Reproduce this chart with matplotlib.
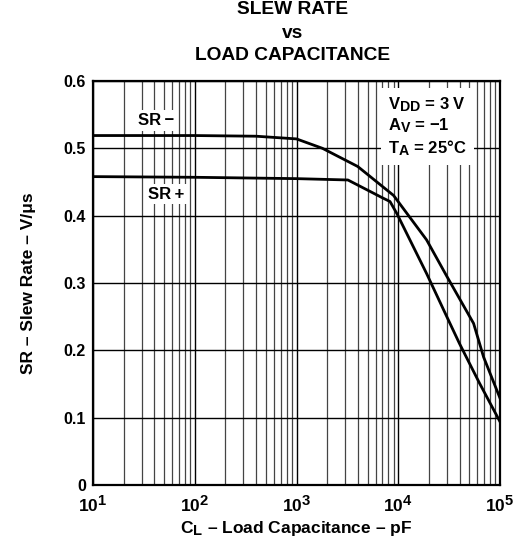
import matplotlib
matplotlib.use("Agg")
import matplotlib.pyplot as plt
import matplotlib._mathtext as _mt
from matplotlib.ticker import FixedLocator, LogLocator, NullFormatter

_mt.SHRINK_FACTOR = 0.85

plt.rcParams['font.family'] = ['Liberation Sans', 'DejaVu Sans']
plt.rcParams['font.weight'] = 'bold'
plt.rcParams['mathtext.fontset'] = 'custom'
plt.rcParams['mathtext.rm'] = 'Liberation Sans:bold'
plt.rcParams['mathtext.bf'] = 'Liberation Sans:bold'
plt.rcParams['mathtext.it'] = 'Liberation Sans:bold'

# Data
cap_minus = [10, 100, 400, 1000, 1800, 4000, 9000, 19000, 30000, 55000, 69000, 100000]
sr_minus = [0.519, 0.519, 0.518, 0.514, 0.500, 0.473, 0.430, 0.364, 0.310, 0.240, 0.190, 0.129]

cap_plus = [10, 100, 1000, 3200, 7100, 8300, 9700, 19000, 30000, 40000, 63000, 100000]
sr_plus = [0.458, 0.457, 0.455, 0.453, 0.426, 0.421, 0.403, 0.314, 0.250, 0.210, 0.151, 0.094]

x_major = [10, 100, 1000, 10000, 100000]
x_labels = [r'$\mathbf{10^{1}}$', r'$\mathbf{10^{2}}$', r'$\mathbf{10^{3}}$',
            r'$\mathbf{10^{4}}$', r'$\mathbf{10^{5}}$']
y_ticks = [0, 0.1, 0.2, 0.3, 0.4, 0.5, 0.6]
y_labels = ['0', '0.1', '0.2', '0.3', '0.4', '0.5', '0.6']

fig = plt.figure(figsize=(5.29, 5.48), dpi=100)
ax = fig.add_axes([93/529, 1-485/548, (500-93)/529, (485-81)/548])

ax.set_xscale('log')
ax.set_xlim(10, 100000)
ax.set_ylim(0, 0.6)

ax.xaxis.set_major_locator(FixedLocator(x_major))
ax.set_xticklabels(x_labels, fontsize=12.5)
ax.xaxis.set_minor_locator(LogLocator(base=10, subs=range(2, 10), numticks=20))
ax.xaxis.set_minor_formatter(NullFormatter())
ax.set_yticks(y_ticks)
ax.set_yticklabels(y_labels, fontsize=11.5)
ax.tick_params(which='both', length=0)
ax.tick_params(axis='x', pad=7)
ax.tick_params(axis='y', pad=5)

ax.grid(which='major', axis='both', color='black', linewidth=1.0, zorder=0)
ax.grid(which='minor', axis='x', color='#444444', linewidth=0.9, zorder=0)
ax.set_axisbelow(True)

for s in ax.spines.values():
    s.set_linewidth(1.6)

ax.plot(cap_minus, sr_minus, color='black', linewidth=2.0, zorder=3)
ax.plot(cap_plus, sr_plus, color='black', linewidth=2.0, zorder=3)

bbox = dict(facecolor='white', edgecolor='none', pad=2)
ax.text(0.11, 0.903, 'SR\u2009\u2212', transform=ax.transAxes, fontsize=12,
        fontweight='bold', va='center', ha='left', bbox=bbox, zorder=2)
ax.text(0.135, 0.72, 'SR\u2009+', transform=ax.transAxes, fontsize=12,
        fontweight='bold', va='center', ha='left', bbox=bbox, zorder=2)

ann = (r'$\mathbf{V_{DD}}$' + ' = 3 V\n' + r'$\mathbf{A_{V}}$' + ' = \u22121\n'
       + r'$\mathbf{T_{A}}$' + ' = 25\u00b0C')
ax.text(0.725, 0.965, ann, transform=ax.transAxes, fontsize=12, fontweight='bold',
        va='top', ha='left', linespacing=1.2,
        bbox=dict(facecolor='white', edgecolor='none', pad=5), zorder=2)

fig.text(292.5/529, 1-10/548, 'SLEW RATE', ha='center', va='center', fontsize=13.8, fontweight='bold')
fig.text(292.5/529, 1-34/548, 'vs', ha='center', va='center', fontsize=13.8, fontweight='bold')
fig.text(292.5/529, 1-56/548, 'LOAD CAPACITANCE', ha='center', va='center', fontsize=13.8, fontweight='bold')

ax.set_xlabel(r'$\mathbf{C_{L}}$' + ' \u2013 Load Capacitance \u2013 pF', fontsize=12.5,
              fontweight='bold', labelpad=3)
ax.set_ylabel('SR \u2013 Slew Rate \u2013 V/\u03bcs', fontsize=12.5, fontweight='bold', labelpad=20)

fig.savefig('out.png', dpi=100)
